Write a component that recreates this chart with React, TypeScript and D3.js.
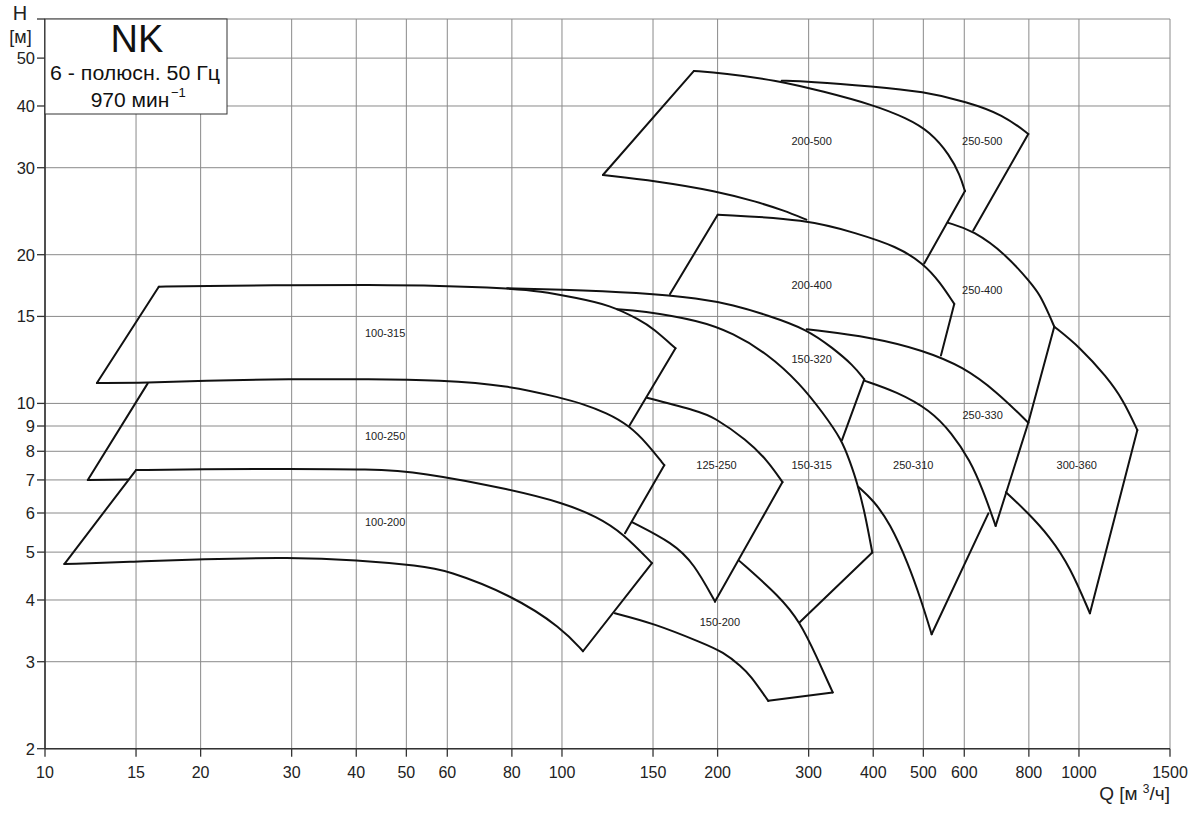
import React from 'react';
import * as d3 from 'd3';

type P = [number, number];

// Axis ticks
const qTicks = [10, 15, 20, 30, 40, 50, 60, 80, 100, 150, 200, 300, 400, 500, 600, 800, 1000, 1500];
const hTicks = [2, 3, 4, 5, 6, 7, 8, 9, 10, 15, 20, 30, 40, 50];
const hFrameTop = 60;

// Curves [Q m3/h, H m]
const c100_200_bottom: P[] = [[10.9, 4.73], [14.9, 4.78], [20, 4.84], [29.8, 4.88], [40.1, 4.82], [53.1, 4.69], [59.8, 4.6], [80, 4.09], [100, 3.51], [109.8, 3.15]];
const c100_200_left: P[] = [[10.9, 4.73], [15.0, 7.33]];
const c100_200_top: P[] = [[15.0, 7.33], [20, 7.36], [29.8, 7.37], [42.5, 7.36], [53.1, 7.27], [80.4, 6.68], [100.4, 6.29], [116.9, 5.9], [131.2, 5.46], [149.3, 4.75]];
const c100_200_right: P[] = [[149.3, 4.75], [109.8, 3.15]];
const c100_250_left: P[] = [[12.1, 7.0], [15.8, 10.98]];
const c100_250_bottom: P[] = [[12.1, 7.0], [14.5, 7.01]];
const c100_250_top: P[] = [[12.6, 11.0], [15.8, 11.0], [20, 11.12], [29.8, 11.2], [42.5, 11.21], [58.1, 11.15], [78.3, 10.89], [100.4, 10.24], [108.3, 10.02], [122.2, 9.57], [135, 9.01], [146, 8.3], [157.7, 7.5]];
const c100_250_right: P[] = [[157.7, 7.5], [132.4, 5.46]];
const c100_315_left: P[] = [[12.6, 11.0], [16.6, 17.23]];
const c100_315_top: P[] = [[16.6, 17.23], [20, 17.28], [29.8, 17.37], [42.5, 17.37], [58.1, 17.31], [78.3, 17.1], [90.7, 16.89], [106.9, 16.34], [123.8, 15.82], [141.6, 14.75], [150, 14.19], [165.8, 12.93]];
const c100_315_right: P[] = [[165.8, 12.93], [135, 9.01]];
const c150_320_top: P[] = [[78.3, 17.1], [97.8, 17.02], [141.6, 16.76], [184.9, 16.32], [214.2, 15.82], [249.2, 15.1], [297.8, 14.13], [334.4, 12.93], [365.5, 11.96], [384.3, 11.19]];
const c150_315_top: P[] = [[127.8, 15.51], [141.6, 15.41], [184.9, 14.71], [214.2, 13.87], [249.2, 12.63], [288.6, 10.98], [320.2, 9.55], [348, 8.43], [360.7, 7.61], [372.1, 6.93], [385.6, 5.99], [398.3, 4.99]];
const c150_320_right: P[] = [[384.3, 11.19], [348, 8.43]];
const c150_315_right: P[] = [[398.3, 4.99], [288.6, 3.61]];
const c250_330_top: P[] = [[297.4, 14.13], [400, 13.6], [500, 12.8], [597.3, 11.86], [693.1, 10.56], [798, 9.14]];
const c250_330_bottom: P[] = [[384.3, 11.12], [444, 10.56], [514.9, 9.7], [568, 8.7], [615, 7.68], [652, 6.68], [690, 5.65]];
const c250_330_right: P[] = [[798, 9.14], [690, 5.65]];
const c250_310_left: P[] = [[374.2, 6.78], [400, 6.37], [431, 5.72], [467, 4.75], [495, 4.0], [518.8, 3.41]];
const c250_310_right: P[] = [[518.8, 3.41], [668, 5.99]];
const c200_500_left: P[] = [[120, 29.0], [180, 47.1]];
const c200_500_top: P[] = [[180, 47.1], [204.9, 46.6], [260.2, 45.1], [320.2, 42.8], [400.1, 40.2], [464.2, 37.8], [514.9, 35.5], [562.9, 31.8], [588.5, 29.0], [601.8, 26.9]];
const c200_500_right: P[] = [[601.8, 26.9], [502, 19.2]];
const c200_500_bottom: P[] = [[120, 29.0], [152.5, 28.2], [199.2, 26.9], [238.1, 25.6], [268, 24.6], [297, 23.55]];
const c250_500_top: P[] = [[266, 45.0], [300, 44.85], [400.1, 43.8], [500, 42.8], [606.4, 40.8], [713.8, 38.4], [798, 35.1]];
const c250_500_right: P[] = [[798, 35.1], [624.5, 22.4]];
const c200_400_left: P[] = [[161.8, 16.65], [200.1, 24.1]];
const c200_400_top: P[] = [[200.1, 24.1], [297.4, 23.6], [371.5, 22.1], [444, 20.8], [500, 19.2], [538.3, 17.6], [573.8, 15.9]];
const c200_400_right: P[] = [[573.8, 15.9], [540.8, 12.5]];
const c250_400_top: P[] = [[558.7, 23.2], [624.5, 22.4], [724.6, 19.97], [804.1, 17.6], [840.7, 16.6], [878.9, 14.98], [895.8, 14.3]];
const c250_400_right: P[] = [[895.8, 14.3], [798, 9.14]];
const c300_360_top: P[] = [[895.8, 14.3], [1004, 13.0], [1131, 11.32], [1218, 10.16], [1297, 8.83]];
const c300_360_right: P[] = [[1297, 8.83], [1050, 3.76]];
const c300_360_bottom: P[] = [[722.4, 6.61], [792.3, 6.04], [878.9, 5.37], [960.7, 4.67], [1050, 3.76]];
const c125_250_top: P[] = [[146, 10.27], [184.9, 9.62], [195.9, 9.4], [228, 8.43], [249.2, 7.68], [267, 6.93]];
const c125_250_right: P[] = [[267, 6.93], [197.7, 3.97]];
const c125_250_bottom: P[] = [[136.6, 5.75], [164.2, 5.21], [180, 4.74], [197.7, 3.97]];
const c150_200_top: P[] = [[220.3, 4.8], [264.1, 4.06], [288.6, 3.61], [310.9, 3.07], [334, 2.6]];
const c150_200_edge: P[] = [[334, 2.6], [250.6, 2.5]];
const c150_200_bottom: P[] = [[126.6, 3.76], [150.2, 3.59], [187.6, 3.27], [204.9, 3.14], [222.7, 2.93], [231, 2.82], [250.6, 2.5]];

const curves: P[][] = [
  c100_200_bottom, c100_200_left, c100_200_top, c100_200_right,
  c100_250_left, c100_250_bottom, c100_250_top, c100_250_right,
  c100_315_left, c100_315_top, c100_315_right,
  c150_320_top, c150_315_top, c150_320_right, c150_315_right,
  c250_330_top, c250_330_bottom, c250_330_right,
  c250_310_left, c250_310_right,
  c200_500_left, c200_500_top, c200_500_right, c200_500_bottom,
  c250_500_top, c250_500_right,
  c200_400_left, c200_400_top, c200_400_right,
  c250_400_top, c250_400_right,
  c300_360_top, c300_360_right, c300_360_bottom,
  c125_250_top, c125_250_right, c125_250_bottom,
  c150_200_top, c150_200_edge, c150_200_bottom,
];

// Pump type labels [name, Q, H]
const pumpNames = ['100-315', '100-250', '100-200', '125-250', '150-315', '250-310', '300-360', '250-330', '150-320', '200-400', '200-500', '250-500', '250-400', '150-200'];
const pumpQ = [45.5, 45.5, 45.5, 199, 304, 478, 990, 651, 304, 304, 304, 650, 650, 202];
const pumpH = [13.9, 8.6, 5.75, 7.5, 7.5, 7.5, 7.5, 9.48, 12.3, 17.4, 34, 34, 17.0, 3.61];

const FONT = '"Liberation Sans", Arial, sans-serif';

export default function App() {
  const x = d3.scaleLog().domain([10, 1500]).range([45, 1170]);
  const y = d3.scaleLog().domain([2, hFrameTop]).range([748.7, 19]);
  const line = d3
    .line<P>()
    .x((d) => x(d[0]))
    .y((d) => y(d[1]))
    .curve(d3.curveBasis);

  const x0 = x(10), x1 = x(1500), y0 = y(2), y1 = y(hFrameTop);

  return (
    <svg
      width={1200}
      height={815}
      style={{ position: 'absolute', left: 0, top: 0, background: '#fff' }}
      fontFamily={FONT}
    >
      <rect x={0} y={0} width={1200} height={815} fill="#fff" />
      {/* grid */}
      {qTicks.map((q) => (
        <line key={'gx' + q} x1={x(q)} x2={x(q)} y1={y1} y2={y0} stroke="#8a8a8a" strokeWidth={1} />
      ))}
      {hTicks.map((h) => (
        <line key={'gy' + h} x1={x0} x2={x1} y1={y(h)} y2={y(h)} stroke="#8a8a8a" strokeWidth={1} />
      ))}
      <line x1={x0} x2={x1} y1={y1} y2={y1} stroke="#8a8a8a" strokeWidth={1} />
      {/* axes */}
      <line x1={x0} x2={x0} y1={y1} y2={y0} stroke="#333" strokeWidth={1.6} />
      <line x1={x0} x2={x1} y1={y0} y2={y0} stroke="#333" strokeWidth={1.6} />
      {[...hTicks, hFrameTop].map((h) => (
        <line key={'ty' + h} x1={x0 - 8} x2={x0} y1={y(h)} y2={y(h)} stroke="#333" strokeWidth={1.3} />
      ))}
      {qTicks.map((q) => (
        <line key={'tx' + q} x1={x(q)} x2={x(q)} y1={y0} y2={y0 + 8} stroke="#333" strokeWidth={1.3} />
      ))}
      {hTicks.map((h) => (
        <text key={'ly' + h} x={x0 - 10} y={y(h)} dy="0.36em" textAnchor="end" fontSize={16.5} fill="#222">
          {h}
        </text>
      ))}
      {qTicks.map((q) => (
        <text key={'lx' + q} x={x(q)} y={778} textAnchor="middle" fontSize={16} fill="#222">
          {q}
        </text>
      ))}
      {/* axis titles */}
      <text x={20} y={20} textAnchor="middle" fontSize={20} fill="#222">H</text>
      <text x={20.5} y={43} textAnchor="middle" fontSize={18} fill="#222">[м]</text>
      <text x={1170} y={800} textAnchor="end" fontSize={19} fill="#222">
        Q [м <tspan fontSize={12} dy={-7}>3</tspan><tspan dy={7}>/ч]</tspan>
      </text>

      {/* curves */}
      {curves.map((c, i) => (
        <path key={'c' + i} d={line(c) || ''} fill="none" stroke="#111" strokeWidth={2} strokeLinejoin="miter" strokeLinecap="round" />
      ))}

      {/* pump labels */}
      {pumpNames.map((n, i) => (
        <text key={'p' + n} x={x(pumpQ[i])} y={y(pumpH[i])} dy="0.36em" textAnchor="middle" fontSize={11} fill="#222">
          {n}
        </text>
      ))}

      {/* title box */}
      <rect x={x0} y={y1} width={182} height={95} fill="#fff" stroke="#333" strokeWidth={1} />
      <text x={137} y={52} textAnchor="middle" fontSize={38} fill="#111">NK</text>
      <text x={135} y={80} textAnchor="middle" fontSize={20} fill="#111" textLength={170} lengthAdjust="spacingAndGlyphs">
        6 - полюсн. 50 Гц
      </text>
      <text x={130} y={107} textAnchor="middle" fontSize={21} fill="#111">
        970 мин
      </text>
      <text x={171} y={97} textAnchor="start" fontSize={13} fill="#111">
        −1
      </text>
    </svg>
  );
}
